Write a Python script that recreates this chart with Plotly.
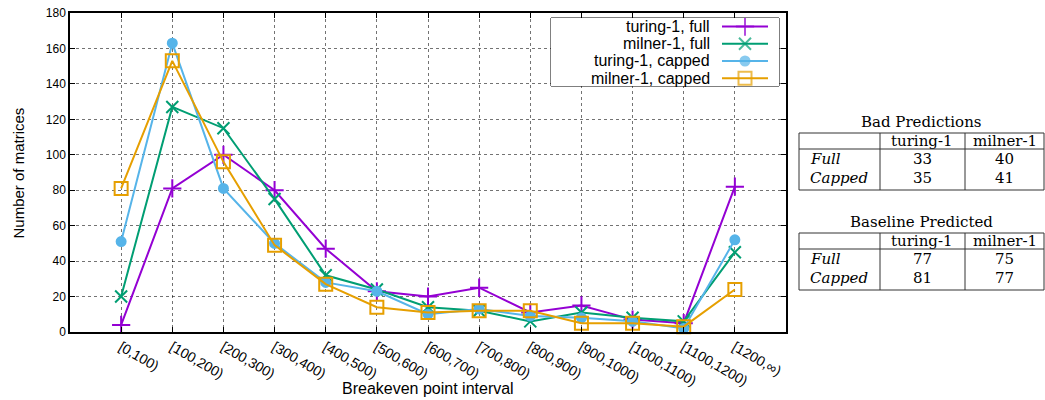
import plotly.graph_objects as go

# Breakeven-point histogram data
intervals = ["[0,100)", "[100,200)", "[200,300)", "[300,400)", "[400,500)",
             "[500,600)", "[600,700)", "[700,800)", "[800,900)", "[900,1000)",
             "[1000,1100)", "[1100,1200)", "[1200,∞)"]
turing_full = [4, 81, 100, 80, 47, 23, 20, 25, 11, 15, 7, 5, 82]
milner_full = [20, 127, 115, 75, 32, 24, 14, 12, 6, 11, 8, 6, 45]
turing_capped = [51, 163, 81, 50, 28, 23, 10, 13, 9, 8, 6, 2, 52]
milner_capped = [81, 153, 96, 49, 27, 14, 11, 12, 12, 5, 5, 3, 24]

series_names = ["turing-1, full", "milner-1, full", "turing-1, capped", "milner-1, capped"]
series_values = [turing_full, milner_full, turing_capped, milner_capped]

# Summary tables
table_cols = ["turing-1", "milner-1"]
table_rows = ["Full", "Capped"]
bad_predictions = [[33, 40], [35, 41]]
baseline_predicted = [[77, 75], [81, 77]]

W, H = 1045, 400
ML, MR, MT, MB = 70, 259, 13, 68
PW, PH = W - ML - MR, H - MT - MB

def px(x):
    return (x - ML) / PW

def py(y):
    return (H - MB - y) / PH

styles = [
    dict(color="#9400D3", symbol="cross-thin", size=13),
    dict(color="#009E73", symbol="x-thin", size=12),
    dict(color="#56B4E9", symbol="circle", size=9),
    dict(color="#E69F00", symbol="square-open", size=13),
]

fig = go.Figure()
xs = list(range(len(intervals)))
for name, vals, st in zip(series_names, series_values, styles):
    fig.add_trace(go.Scatter(
        x=xs, y=vals, name=name, mode="lines+markers",
        line=dict(color=st["color"], width=2),
        marker=dict(symbol=st["symbol"], size=st["size"], color=st["color"],
                    line=dict(color=st["color"], width=2)),
        showlegend=False, cliponaxis=False,
    ))

# Key: box in pixel units on an auxiliary axis pair
LB = dict(x0=551, x1=779, y0=18, y1=86)
row_y = [26.6 + 17.2 * i for i in range(len(series_names))]
for name, st, ry in zip(series_names, styles, row_y):
    fig.add_trace(go.Scatter(
        x=[722, 745, 768], y=[ry, ry, ry], mode="lines+markers",
        xaxis="x2", yaxis="y2",
        line=dict(color=st["color"], width=2),
        marker=dict(symbol=st["symbol"], size=[0, st["size"], 0], color=st["color"],
                    line=dict(color=st["color"], width=2)),
        showlegend=False, hoverinfo="skip",
    ))

sans = "Liberation Sans, Arial, sans-serif"
serif = "DejaVu Serif, serif"

annotations = []
shapes = []

shapes.append(dict(type="rect", xref="paper", yref="paper",
                   x0=px(LB["x0"]), x1=px(LB["x1"]), y0=py(LB["y1"]), y1=py(LB["y0"]),
                   line=dict(color="black", width=1), fillcolor="white", layer="between"))
for name, ry in zip(series_names, row_y):
    annotations.append(dict(x=712, y=ry, xref="x2", yref="y2", text=name, showarrow=False,
                            xanchor="right", yanchor="middle",
                            font=dict(family=sans, size=16, color="black")))

# Axis titles
annotations.append(dict(x=0.5, y=py(388), xref="paper", yref="paper",
                        text="Breakeven point interval", showarrow=False,
                        xanchor="center", yanchor="middle",
                        font=dict(family=sans, size=16, color="black")))
annotations.append(dict(x=px(18), y=0.5, xref="paper", yref="paper",
                        text="Number of matrices", showarrow=False, textangle=-90,
                        xanchor="center", yanchor="middle",
                        font=dict(family=sans, size=15, color="black")))

# Tables
TFS = 15

def add_table(title, values, top):
    x_left, x_c1, x_c2, x_right = 799, 880, 965, 1044
    hdr, bottom = top + 16, top + 57
    annotations.append(dict(x=px((x_left + x_right) / 2), y=py(top - 11), xref="paper", yref="paper",
                            text=title, showarrow=False, xanchor="center", yanchor="middle",
                            font=dict(family=serif, size=TFS, color="black")))
    line = dict(color="#333", width=1)
    for (x0, y0, x1, y1) in [(x_left, top, x_right, top), (x_left, hdr, x_right, hdr),
                             (x_left, bottom, x_right, bottom),
                             (x_left, top, x_left, bottom), (x_c1, top, x_c1, bottom),
                             (x_c2, top, x_c2, bottom), (x_right, top, x_right, bottom)]:
        shapes.append(dict(type="line", xref="paper", yref="paper",
                           x0=px(x0), x1=px(x1), y0=py(y0), y1=py(y1), line=line))
    col_cx = [(x_c1 + x_c2) / 2, (x_c2 + x_right) / 2]
    for cx, cname in zip(col_cx, table_cols):
        annotations.append(dict(x=px(cx), y=py(top + 8), xref="paper", yref="paper",
                                text=cname, showarrow=False, xanchor="center", yanchor="middle",
                                font=dict(family=serif, size=TFS, color="black")))
    for i, (rname, rvals) in enumerate(zip(table_rows, values)):
        ry = hdr + 10 + i * 19
        annotations.append(dict(x=px(x_left + 9), y=py(ry), xref="paper", yref="paper",
                                text="<i>" + rname + "</i>", showarrow=False,
                                xanchor="left", yanchor="middle",
                                font=dict(family=serif, size=TFS, color="black")))
        for cx, v in zip(col_cx, rvals):
            annotations.append(dict(x=px(cx), y=py(ry), xref="paper", yref="paper",
                                    text=str(v), showarrow=False, xanchor="center",
                                    yanchor="middle",
                                    font=dict(family=serif, size=TFS, color="black")))

add_table("Bad Predictions", bad_predictions, 133)
add_table("Baseline Predicted", baseline_predicted, 233)

fig.update_layout(
    width=W, height=H,
    margin=dict(l=ML, r=MR, t=MT, b=MB, pad=0),
    plot_bgcolor="white", paper_bgcolor="white",
    font=dict(family=sans, color="black"),
    xaxis=dict(range=[-1, len(intervals)], tickvals=xs, ticktext=intervals,
               tickangle=30, tickfont=dict(size=14, family=sans),
               showgrid=True, gridcolor="rgba(0,0,0,0.55)", griddash="dot", gridwidth=1,
               zeroline=False, showline=True, linecolor="black", linewidth=1.5,
               mirror="ticks", ticks="inside", ticklen=5, tickcolor="black",
               automargin=False),
    yaxis=dict(range=[0, 180], dtick=20, tickfont=dict(size=12, family=sans),
               showgrid=True, gridcolor="rgba(0,0,0,0.55)", griddash="dot", gridwidth=1,
               zeroline=False, showline=True, linecolor="black", linewidth=1.5,
               mirror="ticks", ticks="inside", ticklen=5, tickcolor="black",
               automargin=False),
    xaxis2=dict(domain=[px(LB["x0"]), px(LB["x1"])], range=[LB["x0"], LB["x1"]],
                anchor="y2", visible=False, fixedrange=True),
    yaxis2=dict(domain=[py(LB["y1"]), py(LB["y0"])], range=[LB["y1"], LB["y0"]],
                anchor="x2", visible=False, fixedrange=True),
    shapes=shapes,
    annotations=annotations,
)

fig.write_html("out.html")
